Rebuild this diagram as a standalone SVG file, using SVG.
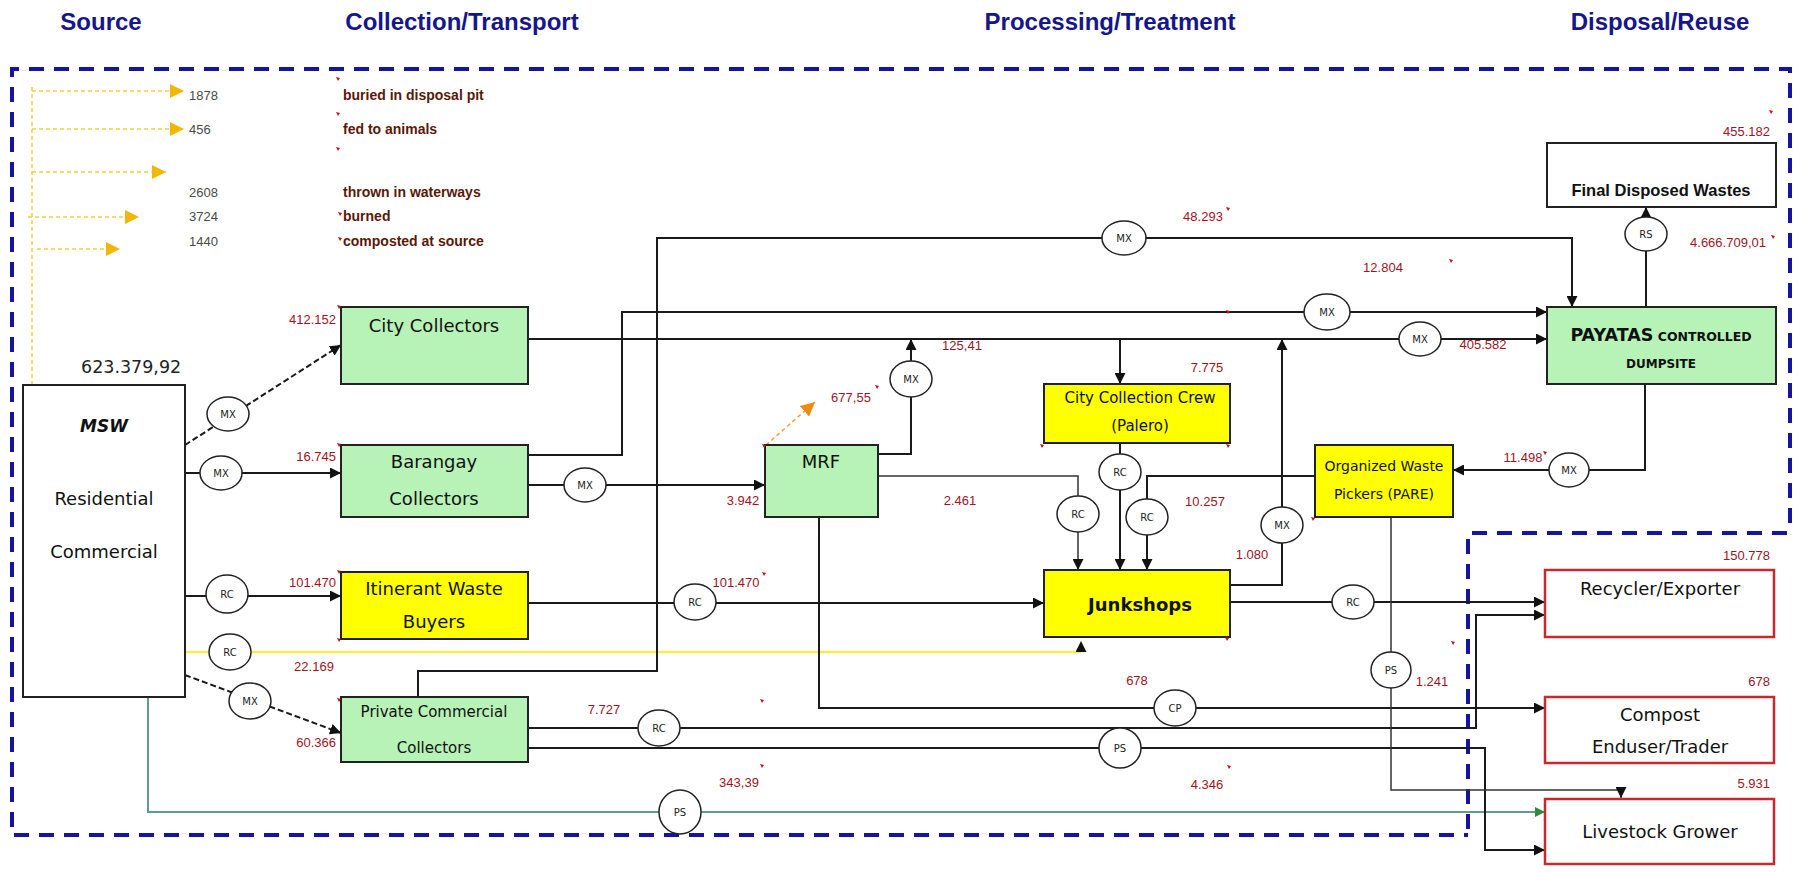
<svg xmlns="http://www.w3.org/2000/svg" width="1806" height="872" viewBox="0 0 1806 872">
<style>
.bg{fill:#fff}
.box{stroke:#222;stroke-width:2}
.g{fill:#b7f2b7}
.y{fill:#ffff00}
.w{fill:#fff}
.r{fill:#fff;stroke:#c8282e;stroke-width:2.5}
.ln{fill:none;stroke:#1a1a1a;stroke-width:2}
.thin{fill:none;stroke:#333;stroke-width:1.5}
.dsh{fill:none;stroke:#1a1a1a;stroke-width:2;stroke-dasharray:6 3}
.yl{fill:none;stroke:#f2ef50;stroke-width:2.5}
.tl{fill:none;stroke:#5f9c8c;stroke-width:2}
.ydot{fill:none;stroke:#efd23a;stroke-width:1.5;stroke-dasharray:4 3}
.od{fill:none;stroke:#f0a040;stroke-width:1.5;stroke-dasharray:4 3}
.blue{fill:none;stroke:#1414a0;stroke-width:4;stroke-dasharray:15 10}
.el{fill:#fff;stroke:#222;stroke-width:1.5}
.et{font-family:'DejaVu Sans',sans-serif;font-size:10px;text-anchor:middle;fill:#222}
.lbl{font-family:'DejaVu Sans',sans-serif;font-size:18px;text-anchor:middle;fill:#111}
.s15{font-size:15px}
.s14{font-size:14px}
.num{font-family:'Liberation Sans',Arial,sans-serif;font-size:13px;fill:#a3121f}
.mid{text-anchor:middle}
.end{text-anchor:end}
.gray{font-family:'Liberation Sans',Arial,sans-serif;font-size:13px;fill:#4a4a4a}
.brown{font-family:'Liberation Sans',Arial,sans-serif;font-weight:bold;font-size:14px;fill:#5a1808}
.title{font-family:'Liberation Sans',Arial,sans-serif;font-weight:bold;font-size:24px;fill:#16168c;text-anchor:middle}
.tick{fill:#c8101c}
</style>
<defs>
<marker id="ah" viewBox="0 0 10 10" refX="10" refY="5" markerWidth="11" markerHeight="11" markerUnits="userSpaceOnUse" orient="auto"><path d="M0,0 L10,5 L0,10 z" fill="#111"/></marker>
<marker id="ahg" viewBox="0 0 10 10" refX="10" refY="5" markerWidth="10" markerHeight="10" markerUnits="userSpaceOnUse" orient="auto"><path d="M0,0 L10,5 L0,10 z" fill="#2e8a3e"/></marker>
<marker id="aho" viewBox="0 0 10 10" refX="10" refY="5" markerWidth="14" markerHeight="14" markerUnits="userSpaceOnUse" orient="auto"><path d="M0,0 L10,5 L0,10 z" fill="#f08a10"/></marker>
<marker id="ahy" viewBox="0 0 10 10" refX="10" refY="5" markerWidth="14" markerHeight="14" markerUnits="userSpaceOnUse" orient="auto"><path d="M0,0 L10,5 L0,10 z" fill="#f2b705"/></marker>
<path id="tk" d="M0,0 L4,1 L2,4 z"/>
</defs>
<rect class="bg" x="0" y="0" width="1806" height="872"/>

<g id="titles">
<text class="title" x="101" y="30">Source</text>
<text class="title" x="462" y="30">Collection/Transport</text>
<text class="title" x="1110" y="30">Processing/Treatment</text>
<text class="title" x="1660" y="30">Disposal/Reuse</text>
</g>

<g id="boundaries">
<path class="blue" d="M1790,523 V69 H12 V835 H1468"/>
<path class="blue" d="M1787,533 H1468 V835"/>
</g>

<g id="source-disposal">
<path class="ydot" d="M32,87 V385"/>
<path class="ydot" d="M32,91 H184" marker-end="url(#ahy)"/>
<path class="ydot" d="M32,129 H184" marker-end="url(#ahy)"/>
<path class="ydot" d="M32,172 H166" marker-end="url(#ahy)"/>
<path class="ydot" d="M28,217 H139" marker-end="url(#ahy)"/>
<path class="ydot" d="M37,249 H120" marker-end="url(#ahy)"/>
<text class="gray" x="189" y="100">1878</text>
<text class="gray" x="189" y="134">456</text>
<text class="gray" x="189" y="197">2608</text>
<text class="gray" x="189" y="221">3724</text>
<text class="gray" x="189" y="246">1440</text>
<text class="brown" x="343" y="100">buried in disposal pit</text>
<text class="brown" x="343" y="134">fed to animals</text>
<text class="brown" x="343" y="197">thrown in waterways</text>
<text class="brown" x="343" y="221">burned</text>
<text class="brown" x="343" y="246">composted at source</text>
</g>

<g id="connectors">
<path class="dsh" d="M185,445 L341,345" marker-end="url(#ah)"/>
<path class="ln" d="M185,473 H341" marker-end="url(#ah)"/>
<path class="ln" d="M185,596 H341" marker-end="url(#ah)"/>
<path class="yl" d="M185,652 H1081"/>
<path class="ln" d="M1081,652 V641" marker-end="url(#ah)" stroke-opacity="0"/>
<path class="dsh" d="M185,675 L341,733" marker-end="url(#ah)"/>
<path class="tl" d="M148,697 V812 H1545" marker-end="url(#ahg)"/>
<path class="ln" d="M528,339 H1547" marker-end="url(#ah)"/>
<path class="ln" d="M1120,339 V384" marker-end="url(#ah)"/>
<path class="ln" d="M528,455 H622 V312 H1547" marker-end="url(#ah)"/>
<path class="ln" d="M528,485 H765" marker-end="url(#ah)"/>
<path class="ln" d="M878,454 H911 V339" marker-end="url(#ah)"/>
<path class="od" d="M766,445 L815,402" marker-end="url(#aho)"/>
<path class="thin" d="M878,476 H1078 V570" marker-end="url(#ah)"/>
<path class="ln" d="M819,517 V708 H1545" marker-end="url(#ah)"/>
<path class="ln" d="M528,603 H1044" marker-end="url(#ah)"/>
<path class="ln" d="M418,697 V671 H657 V238 H1572 V307" marker-end="url(#ah)"/>
<path class="ln" d="M528,728 H1476 V615 H1545" marker-end="url(#ah)"/>
<path class="ln" d="M528,748 H1485 V850 H1545" marker-end="url(#ah)"/>
<path class="ln" d="M1120,443 V570" marker-end="url(#ah)"/>
<path class="ln" d="M1315,476 H1147 V570" marker-end="url(#ah)"/>
<path class="ln" d="M1230,585 H1282 V339" marker-end="url(#ah)"/>
<path class="ln" d="M1230,602 H1545" marker-end="url(#ah)"/>
<path class="thin" d="M1391,517 V790 H1621 V798" marker-end="url(#ah)"/>
<path class="ln" d="M1645,384 V470 H1453" marker-end="url(#ah)"/>
<path class="ln" d="M1646,307 V207" marker-end="url(#ah)"/>
<g id="flow-types">
<ellipse class="el" cx="228" cy="414" rx="21" ry="17"/><text class="et" x="228" y="418">MX</text>
<ellipse class="el" cx="221" cy="473" rx="21" ry="17"/><text class="et" x="221" y="477">MX</text>
<ellipse class="el" cx="227" cy="594" rx="21" ry="19"/><text class="et" x="227" y="598">RC</text>
<ellipse class="el" cx="230" cy="652" rx="21" ry="18"/><text class="et" x="230" y="656">RC</text>
<ellipse class="el" cx="250" cy="701" rx="21" ry="18"/><text class="et" x="250" y="705">MX</text>
<ellipse class="el" cx="680" cy="812" rx="21" ry="22"/><text class="et" x="680" y="816">PS</text>
<ellipse class="el" cx="1420" cy="339" rx="21" ry="17"/><text class="et" x="1420" y="343">MX</text>
<ellipse class="el" cx="1327" cy="312" rx="23" ry="18"/><text class="et" x="1327" y="316">MX</text>
<ellipse class="el" cx="585" cy="485" rx="21" ry="17"/><text class="et" x="585" y="489">MX</text>
<ellipse class="el" cx="911" cy="379" rx="21" ry="18"/><text class="et" x="911" y="383">MX</text>
<ellipse class="el" cx="1078" cy="514" rx="21" ry="18"/><text class="et" x="1078" y="518">RC</text>
<ellipse class="el" cx="1175" cy="708" rx="21" ry="18"/><text class="et" x="1175" y="712">CP</text>
<ellipse class="el" cx="695" cy="602" rx="21" ry="18"/><text class="et" x="695" y="606">RC</text>
<ellipse class="el" cx="1124" cy="238" rx="22" ry="17"/><text class="et" x="1124" y="242">MX</text>
<ellipse class="el" cx="659" cy="728" rx="21" ry="18"/><text class="et" x="659" y="732">RC</text>
<ellipse class="el" cx="1120" cy="748" rx="21" ry="20"/><text class="et" x="1120" y="752">PS</text>
<ellipse class="el" cx="1120" cy="472" rx="21" ry="18"/><text class="et" x="1120" y="476">RC</text>
<ellipse class="el" cx="1147" cy="517" rx="21" ry="18"/><text class="et" x="1147" y="521">RC</text>
<ellipse class="el" cx="1282" cy="525" rx="21" ry="18"/><text class="et" x="1282" y="529">MX</text>
<ellipse class="el" cx="1353" cy="602" rx="21" ry="17"/><text class="et" x="1353" y="606">RC</text>
<ellipse class="el" cx="1391" cy="670" rx="20" ry="18"/><text class="et" x="1391" y="674">PS</text>
<ellipse class="el" cx="1569" cy="470" rx="20" ry="17"/><text class="et" x="1569" y="474">MX</text>
<ellipse class="el" cx="1646" cy="234" rx="21" ry="17"/><text class="et" x="1646" y="238">RS</text>
</g>
</g>

<g id="msw">
<rect class="box w" x="23" y="385" width="162" height="312"/>
<text class="lbl" x="104" y="432" style="font-size:17px;font-weight:bold;font-style:italic">MSW</text>
<text class="lbl" x="104" y="505">Residential</text>
<text class="lbl" x="104" y="558">Commercial</text>
</g>
<g id="city-collectors">
<rect class="box g" x="341" y="307" width="187" height="77"/>
<text class="lbl" x="434" y="332">City Collectors</text>
</g>
<g id="barangay-collectors">
<rect class="box g" x="341" y="445" width="187" height="72"/>
<text class="lbl" x="434" y="468">Barangay</text>
<text class="lbl" x="434" y="505">Collectors</text>
</g>
<g id="itinerant-waste-buyers">
<rect class="box y" x="341" y="572" width="187" height="67"/>
<text class="lbl" x="434" y="595">Itinerant Waste</text>
<text class="lbl" x="434" y="628">Buyers</text>
</g>
<g id="private-commercial-collectors">
<rect class="box g" x="341" y="697" width="187" height="65"/>
<text class="lbl s15" x="434" y="717">Private Commercial</text>
<text class="lbl s15" x="434" y="753">Collectors</text>
</g>
<g id="mrf">
<rect class="box g" x="765" y="445" width="113" height="72"/>
<text class="lbl" x="821" y="468">MRF</text>
</g>
<g id="city-collection-crew">
<rect class="box y" x="1044" y="384" width="186" height="59"/>
<text class="lbl s15" x="1140" y="403">City Collection Crew</text>
<text class="lbl s15" x="1140" y="431">(Palero)</text>
</g>
<g id="junkshops">
<rect class="box y" x="1044" y="570" width="186" height="67"/>
<text class="lbl" x="1140" y="611" style="font-weight:bold">Junkshops</text>
</g>
<g id="organized-waste-pickers">
<rect class="box y" x="1315" y="445" width="138" height="72"/>
<text class="lbl s14" x="1384" y="471">Organized Waste</text>
<text class="lbl s14" x="1384" y="499">Pickers (PARE)</text>
</g>
<g id="payatas">
<rect class="box g" x="1547" y="307" width="229" height="77"/>
<text class="lbl" x="1661" y="341" style="font-weight:bold"><tspan style="font-size:17.5px">PAYATAS</tspan><tspan style="font-size:12.5px"> CONTROLLED</tspan></text>
<text class="lbl" x="1661" y="368" style="font-weight:bold;font-size:12px">DUMPSITE</text>
</g>
<g id="final-disposed-wastes">
<rect class="box w" x="1547" y="143" width="229" height="64"/>
<text class="lbl" x="1661" y="196" style="font-weight:bold;font-family:'Liberation Sans',Arial,sans-serif;font-size:16.5px">Final Disposed Wastes</text>
</g>
<g id="recycler-exporter">
<rect class="r" x="1545" y="570" width="229" height="67"/>
<text class="lbl" x="1660" y="595">Recycler/Exporter</text>
</g>
<g id="compost-enduser-trader">
<rect class="r" x="1545" y="697" width="229" height="66"/>
<text class="lbl" x="1660" y="721">Compost</text>
<text class="lbl" x="1660" y="753">Enduser/Trader</text>
</g>
<g id="livestock-grower">
<rect class="r" x="1545" y="799" width="229" height="65"/>
<text class="lbl" x="1660" y="838">Livestock Grower</text>
</g>

<g id="quantities">
<text class="lbl" x="81" y="373" style="font-size:17.5px;text-anchor:start;fill:#222">623.379,92</text>
<text class="num end" x="336" y="324">412.152</text>
<text class="num end" x="336" y="461">16.745</text>
<text class="num end" x="336" y="587">101.470</text>
<text class="num mid" x="314" y="671">22.169</text>
<text class="num end" x="336" y="747">60.366</text>
<text class="num mid" x="743" y="505">3.942</text>
<text class="num mid" x="851" y="402">677,55</text>
<text class="num mid" x="962" y="350">125,41</text>
<text class="num mid" x="960" y="505">2.461</text>
<text class="num mid" x="736" y="587">101.470</text>
<text class="num mid" x="1203" y="221">48.293</text>
<text class="num mid" x="1383" y="272">12.804</text>
<text class="num mid" x="1207" y="372">7.775</text>
<text class="num mid" x="1483" y="349">405.582</text>
<text class="num mid" x="1205" y="506">10.257</text>
<text class="num mid" x="1252" y="559">1.080</text>
<text class="num mid" x="1523" y="462">11.498</text>
<text class="num mid" x="1728" y="247">4.666.709,01</text>
<text class="num end" x="1770" y="136">455.182</text>
<text class="num mid" x="604" y="714">7.727</text>
<text class="num mid" x="1137" y="685">678</text>
<text class="num mid" x="739" y="787">343,39</text>
<text class="num mid" x="1207" y="789">4.346</text>
<text class="num mid" x="1432" y="686">1.241</text>
<text class="num end" x="1770" y="560">150.778</text>
<text class="num end" x="1770" y="686">678</text>
<text class="num end" x="1770" y="788">5.931</text>
</g>

<g id="comment-ticks" class="tick">
<use href="#tk" x="336" y="77"/><use href="#tk" x="336" y="112"/><use href="#tk" x="336" y="147"/>
<use href="#tk" x="338" y="212"/><use href="#tk" x="338" y="237"/>
<use href="#tk" x="337" y="305"/><use href="#tk" x="337" y="443"/><use href="#tk" x="337" y="570"/>
<use href="#tk" x="337" y="638"/><use href="#tk" x="337" y="698"/>
<use href="#tk" x="762" y="444"/><use href="#tk" x="875" y="385"/><use href="#tk" x="762" y="572"/>
<use href="#tk" x="760" y="699"/><use href="#tk" x="760" y="764"/>
<use href="#tk" x="1040" y="444"/><use href="#tk" x="1226" y="444"/><use href="#tk" x="1226" y="310"/>
<use href="#tk" x="1311" y="517"/><use href="#tk" x="1225" y="637"/><use href="#tk" x="1226" y="207"/>
<use href="#tk" x="1449" y="259"/><use href="#tk" x="1769" y="110"/><use href="#tk" x="1771" y="235"/>
<use href="#tk" x="1543" y="451"/><use href="#tk" x="1451" y="641"/><use href="#tk" x="1227" y="765"/>
</g>
</svg>
